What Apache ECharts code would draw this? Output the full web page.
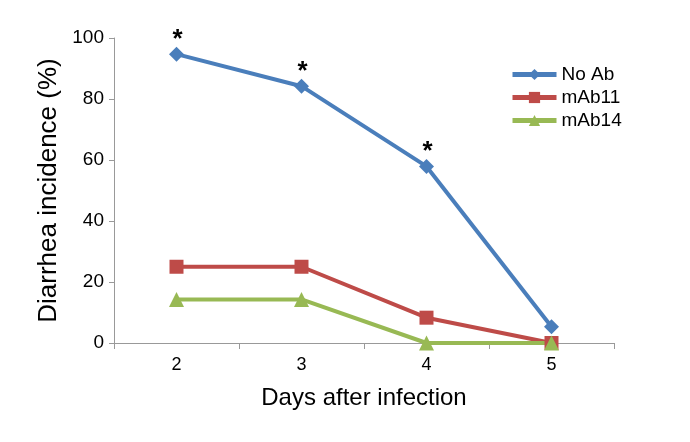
<!DOCTYPE html>
<html><head><meta charset="utf-8">
<script src="https://cdn.jsdelivr.net/npm/echarts@6/dist/echarts.min.js"></script>
<style>html,body{margin:0;padding:0;background:#fff}#c{width:690px;height:442px}</style>
</head><body><div id="c"></div>
<script>
var days = ['2', '3', '4', '5'];
var noAb = [94.7, 84.2, 57.9, 5.3];
var mAb11 = [25, 25, 8.3, 0];
var mAb14 = [14.3, 14.3, 0, 0];
var noAbMarks = ['*', '*', '*', ''];
var yTicks = [0, 20, 40, 60, 80, 100];

var font = 'Liberation Sans, Arial, sans-serif';
var chart = echarts.init(document.getElementById('c'), null, {renderer: 'canvas'});
chart.setOption({
  animation: false,
  backgroundColor: '#fff',
  grid: {left: 114, right: 76, top: 38, bottom: 99},
  legend: {
    left: 505, top: 60, orient: 'vertical', itemWidth: 44, itemHeight: 14, itemGap: 4,
    lineStyle: {width: 5},
    textStyle: {fontFamily: font, fontSize: 19, color: '#000'},
    data: ['No Ab', 'mAb11', 'mAb14']
  },
  xAxis: {
    type: 'category', data: days, boundaryGap: true,
    name: 'Days after infection', nameLocation: 'middle', nameGap: 43,
    nameTextStyle: {fontFamily: font, fontSize: 24, color: '#000'},
    axisLine: {lineStyle: {color: '#999', width: 1}},
    axisTick: {show: true, length: 6, lineStyle: {color: '#999'}},
    axisLabel: {fontFamily: font, fontSize: 18, color: '#000', margin: 13}
  },
  yAxis: {
    type: 'value', min: yTicks[0], max: yTicks[yTicks.length - 1], interval: 20,
    name: 'Diarrhea incidence (%)', nameLocation: 'middle', nameGap: 49,
    nameTextStyle: {fontFamily: font, fontSize: 26, color: '#000'},
    axisLine: {show: true, lineStyle: {color: '#999', width: 1}},
    axisTick: {show: true, length: 5, lineStyle: {color: '#999'}},
    splitLine: {show: false},
    axisLabel: {fontFamily: font, fontSize: 19, color: '#000', margin: 10}
  },
  series: [
    {
      name: 'No Ab', type: 'line', data: noAb.map(function (v, i) {
        return {value: v, label: {show: noAbMarks[i] !== '', formatter: noAbMarks[i]}};
      }),
      symbol: 'diamond', symbolSize: 15, color: '#4a7ebb',
      lineStyle: {width: 4, color: '#4a7ebb'}, itemStyle: {color: '#4a7ebb'},
      label: {position: 'top', distance: 0, offset: [1, 6], fontFamily: font, fontSize: 26, fontWeight: 'bold', color: '#000'}
    },
    {
      name: 'mAb11', type: 'line', data: mAb11,
      symbol: 'rect', symbolSize: 14, color: '#be4b48',
      lineStyle: {width: 4, color: '#be4b48'}, itemStyle: {color: '#be4b48'}
    },
    {
      name: 'mAb14', type: 'line', data: mAb14,
      symbol: 'triangle', symbolSize: 15, color: '#98b954',
      lineStyle: {width: 4, color: '#98b954'}, itemStyle: {color: '#98b954'}
    }
  ]
});
</script></body></html>
